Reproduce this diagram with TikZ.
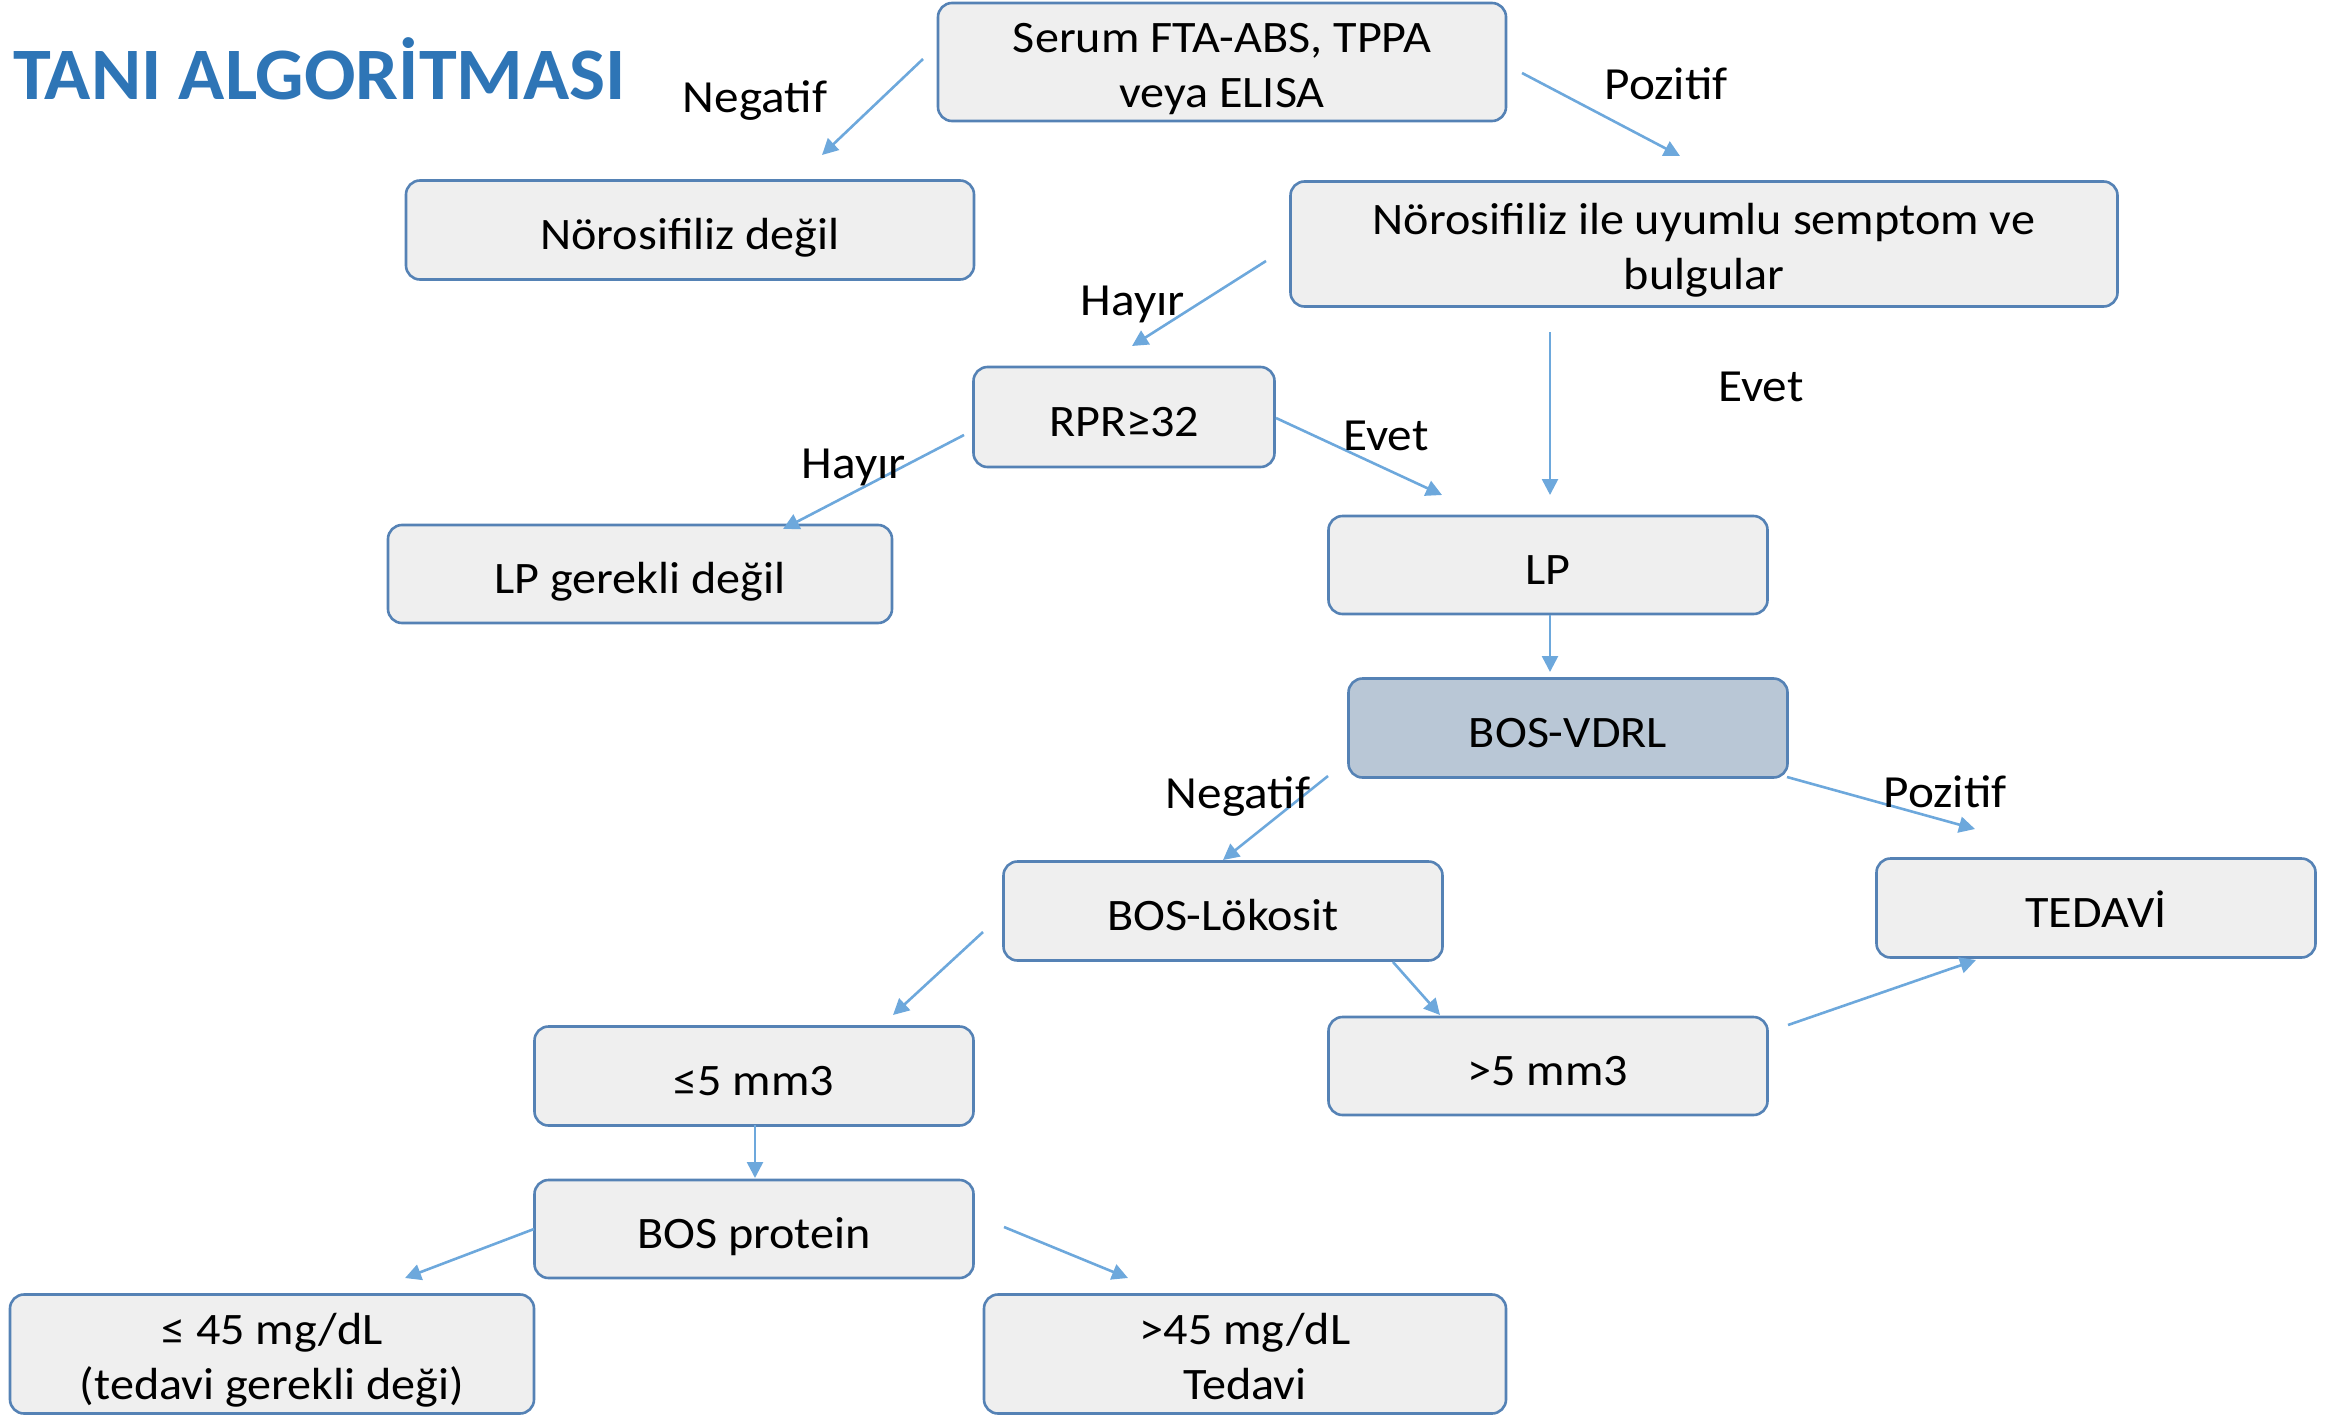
\documentclass[tikz,border=0pt]{standalone}
\usepackage{fontspec}
\setmainfont{Carlito}
\newfontfamily\boxfont[FakeStretch=1.07]{Carlito}
\newfontfamily\titlefont[FakeStretch=1.03]{Carlito}
\usetikzlibrary{arrows.meta}
\definecolor{boxfill}{HTML}{EFEFEF}
\definecolor{vdrlfill}{HTML}{B9C7D6}
\definecolor{boxline}{HTML}{5582B5}
\definecolor{arrowc}{HTML}{6DA8DC}
\definecolor{titlec}{HTML}{2E75B6}
\newcommand{\tstrut}{\rule{0pt}{46pt}}
\newcommand{\bstrut}{\rule[-10pt]{0pt}{10pt}}
\tikzset{
  box/.style={draw=boxline, fill=boxfill, rounded corners=14pt, line width=2.6pt,
    font=\boxfont\fontsize{45}{55}\selectfont, align=center, inner sep=0pt},
  oneline/.style={text height=40pt, text depth=2pt},
  lbl/.style={font=\boxfont\fontsize{46}{55}\selectfont, anchor=base, inner sep=0pt},
  arr/.style={draw=arrowc, line width=2.6pt, -{Triangle[length=16pt,width=16pt]}},
}
\begin{document}
\begin{tikzpicture}[x=1pt,y=-1pt]
\useasboundingbox (0,0) rectangle (2331,1418);
\node[anchor=base west, inner sep=0pt, text=titlec, font=\titlefont\bfseries\fontsize{74}{80}\selectfont] (title) at (13,100) {TANI ALGORİTMASI};

\node[box, minimum width=568pt, minimum height=118pt] (serum) at (1222,62) {\tstrut Serum FTA-ABS, TPPA\\veya ELISA\bstrut};
\node[box, oneline, minimum width=568pt, minimum height=99pt] (nneg) at (690,230) {Nörosifiliz değil};
\node[box, minimum width=827pt, minimum height=125pt] (nuy) at (1704,244) {\tstrut Nörosifiliz ile uyumlu semptom ve\\bulgular\bstrut};
\node[box, oneline, minimum width=301pt, minimum height=100pt] (rpr) at (1124,417) {RPR≥32};
\node[box, oneline, minimum width=504pt, minimum height=98pt] (lpg) at (640,574) {LP gerekli değil};
\node[box, oneline, minimum width=439pt, minimum height=98pt] (lp) at (1548,565) {LP};
\node[box, oneline, fill=vdrlfill, minimum width=439pt, minimum height=99pt] (vdrl) at (1568,728) {BOS-VDRL};
\node[box, oneline, minimum width=439pt, minimum height=99pt] (lok) at (1223,911) {BOS-Lökosit};
\node[box, oneline, minimum width=439pt, minimum height=99pt] (ted) at (2096,908) {TEDAVİ};
\node[box, oneline, minimum width=439pt, minimum height=99pt] (le5) at (754,1076) {≤5 mm3};
\node[box, oneline, minimum width=439pt, minimum height=98pt] (gt5) at (1548,1066) {>5 mm3};
\node[box, oneline, minimum width=439pt, minimum height=98pt] (prot) at (754,1229) {BOS protein};
\node[box, minimum width=524pt, minimum height=119pt] (le45) at (272,1354) {\tstrut ≤ 45 mg/dL\\(tedavi gerekli deği)\bstrut};
\node[box, minimum width=522pt, minimum height=119pt] (gt45) at (1245,1354) {\tstrut >45 mg/dL\\Tedavi\bstrut};

% arrow end points
\coordinate (a1s) at (923,59);   \coordinate (a1e) at (822,155);
\coordinate (a2s) at (1522,73);  \coordinate (a2e) at (1680,156);
\coordinate (a3s) at (1266,261); \coordinate (a3e) at (1132,346);
\coordinate (a4s) at (1550,332); \coordinate (a4e) at (1550,495);
\coordinate (a5s) at (964,435);  \coordinate (a5e) at (783,529);
\coordinate (a6s) at (1276,418); \coordinate (a6e) at (1442,495);
\coordinate (a7s) at (1550,615); \coordinate (a7e) at (1550,672);
\coordinate (a8s) at (1328,776); \coordinate (a8e) at (1223,860);
\coordinate (a9s) at (1787,777); \coordinate (a9e) at (1975,829);
\coordinate (a10s) at (983,932); \coordinate (a10e) at (893,1015);
\coordinate (a11s) at (1393,962);\coordinate (a11e) at (1440,1015);
\coordinate (a12s) at (1788,1025);\coordinate (a12e) at (1976,960);
\coordinate (a13s) at (755,1125);\coordinate (a13e) at (755,1178);
\coordinate (a14s) at (534,1229);\coordinate (a14e) at (405,1278);
\coordinate (a15s) at (1004,1227);\coordinate (a15e) at (1128,1278);

\draw[arr] (a1s) -- (a1e);
\draw[arr] (a2s) -- (a2e);
\draw[arr] (a3s) -- (a3e);
\draw[arr] (a4s) -- (a4e);
\draw[arr] (a5s) -- (a5e);
\draw[arr] (a6s) -- (a6e);
\draw[arr] (a7s) -- (a7e);
\draw[arr] (a8s) -- (a8e);
\draw[arr] (a9s) -- (a9e);
\draw[arr] (a10s) -- (a10e);
\draw[arr] (a11s) -- (a11e);
\draw[arr] (a12s) -- (a12e);
\draw[arr] (a13s) -- (a13e);
\draw[arr] (a14s) -- (a14e);
\draw[arr] (a15s) -- (a15e);

% labels
\node[lbl] (l1) at (755,113) {Negatif};
\node[lbl] (l2) at (1666,100) {Pozitif};
\node[lbl] (l3) at (1133,315) {Hayır};
\node[lbl] (l4) at (1761,401) {Evet};
\node[lbl] (l5) at (854,478) {Hayır};
\node[lbl] (l6) at (1386,450) {Evet};
\node[lbl] (l7) at (1238,808) {Negatif};
\node[lbl] (l8) at (1945,807) {Pozitif};
\end{tikzpicture}
\end{document}
